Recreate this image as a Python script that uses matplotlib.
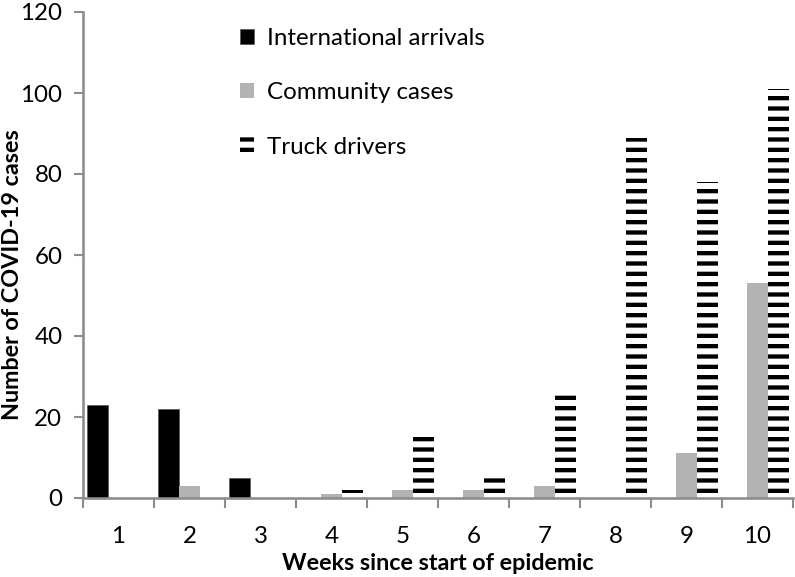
import matplotlib
matplotlib.use("Agg")
import matplotlib.pyplot as plt
import numpy as np

weeks = [1, 2, 3, 4, 5, 6, 7, 8, 9, 10]
international = [23, 22, 5, 0, 0, 0, 0, 0, 0, 0]
community = [0, 3, 0, 1, 2, 2, 3, 0, 11, 53]
truck = [0, 0, 0, 2, 15, 5, 26, 89, 78, 101]
series_labels = ["International arrivals", "Community cases", "Truck drivers"]
yticks = [0, 20, 40, 60, 80, 100, 120]

DPI = 124
FS = 14
FSB = 13.6
plt.rcParams['font.family'] = ['Lato', 'DejaVu Sans']
plt.rcParams['hatch.linewidth'] = 2.5

fig = plt.figure(figsize=(795 / DPI, 577 / DPI), dpi=DPI)
ax = fig.add_axes([83 / 795, 1 - 498 / 577, 710 / 795, 486 / 577])

x = np.array(weeks, dtype=float)
w = 0.3
axis_grey = "#8c8c8c"
ax.bar(x - w, international, width=w, color="black", edgecolor="#555555",
       linewidth=0.4, label=series_labels[0])
ax.bar(x, community, width=w, color="#b3b3b3", linewidth=0, label=series_labels[1])
ax.bar(x + w, truck, width=w, color="white", edgecolor="black", hatch="--",
       linewidth=0, label=series_labels[2])

ax.set_xlim(0.5, 10.5)
ax.set_ylim(0, 120)
ax.set_yticks(yticks)
ax.set_yticklabels([str(t) for t in yticks])
ax.set_xticks(np.arange(0.5, 11, 1.0))
ax.set_xticklabels([])
ax.set_xticks(x, minor=True)
ax.set_xticklabels([str(wk) for wk in weeks], minor=True)
ax.tick_params(axis='x', which='major', length=6, width=1.2, color=axis_grey, direction='out')
ax.tick_params(axis='x', which='minor', length=0, pad=16, labelsize=FS)
ax.tick_params(axis='y', length=5, width=1.2, color=axis_grey, direction='out', pad=7, labelsize=FS)

for s in ['top', 'right']:
    ax.spines[s].set_visible(False)
for s in ['left', 'bottom']:
    ax.spines[s].set_color(axis_grey)
    ax.spines[s].set_linewidth(1.5)

ax.set_xlabel("Weeks since start of epidemic", fontsize=FSB, fontweight='bold', labelpad=4)
ax.set_ylabel("Number of COVID-19 cases", fontsize=FSB, fontweight='bold')
ax.yaxis.set_label_coords(-0.084, 0.46)

leg = ax.legend(loc='upper left', bbox_to_anchor=(240 / 795, 1 - 28 / 577),
                bbox_transform=fig.transFigure, frameon=False, fontsize=FS,
                handlelength=0.6, handleheight=0.6, handletextpad=0.5,
                labelspacing=1.38, borderaxespad=0, borderpad=0)

fig.savefig("out.png", dpi=DPI)
